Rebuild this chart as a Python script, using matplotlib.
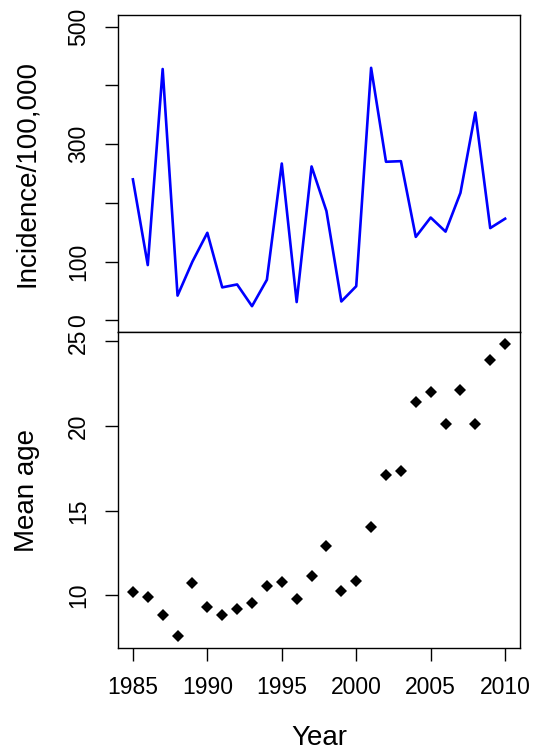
import matplotlib
matplotlib.use('Agg')
import matplotlib.pyplot as plt
import numpy as np

plt.rcParams['font.family'] = ['Liberation Sans', 'DejaVu Sans']

years = np.arange(1985, 2011)
incidence = [240, 94, 428, 42, 100, 149, 56, 61, 24, 69, 267, 31, 262, 186, 32, 58,
             430, 270, 271, 142, 175, 151, 217, 354, 157, 173]
mean_age = [10.22, 9.92, 8.82, 7.59, 10.73, 9.30, 8.86, 9.18, 9.57, 10.55, 10.82, 9.77, 11.16,
            12.90, 10.26, 10.86, 14.02, 17.12, 17.34, 21.43, 22.02, 20.14, 22.14, 20.10, 23.88, 24.86]

inc_ticks = [0, 100, 200, 300, 400, 500]
inc_labels = ['0', '100', '', '300', '', '500']
age_ticks = [10, 15, 20, 25]
year_ticks = [1985, 1990, 1995, 2000, 2005, 2010]

W, H = 533, 751
fig = plt.figure(figsize=(W / 100, H / 100), dpi=100)

left = 118 / W
width = (520 - 118) / W
ax1 = fig.add_axes([left, 1 - 332 / H, width, (332 - 15) / H])
ax2 = fig.add_axes([left, 1 - 648 / H, width, (648 - 332) / H])

ax1.plot(years, incidence, color='#0000ff', lw=1.9)
ax1.set_xlim(1984, 2011)
ax1.set_ylim(-20, 520)
ax1.set_yticks(inc_ticks)
ax1.set_yticklabels(inc_labels)
ax1.set_xticks([])
ax1.set_ylabel('Incidence/100,000', fontsize=20)

ax2.plot(years, mean_age, 'D', color='black', ms=6.2, mew=0)
ax2.set_xlim(1984, 2011)
span = max(mean_age) - min(mean_age)
ax2.set_ylim(min(mean_age) - 0.04 * span, max(mean_age) + 0.04 * span)
ax2.set_yticks(age_ticks)
ax2.set_xticks(year_ticks)
ax2.set_ylabel('Mean age', fontsize=20)
ax2.set_xlabel('Year', fontsize=20)

for ax in (ax1, ax2):
    for s in ax.spines.values():
        s.set_linewidth(1.0)
    ax.tick_params(axis='y', length=9.4, width=1.0, labelsize=16.5, pad=10.5, labelrotation=90)
    ax.tick_params(axis='x', length=9.4, width=1.0, labelsize=16.5, pad=11.0)
    for lab in ax.get_yticklabels():
        lab.set_va('center')
    ax.yaxis.set_label_coords(-0.195, 0.5)

ax2.xaxis.set_label_coords(0.5, -0.243)

fig.savefig('out.png', dpi=100)
